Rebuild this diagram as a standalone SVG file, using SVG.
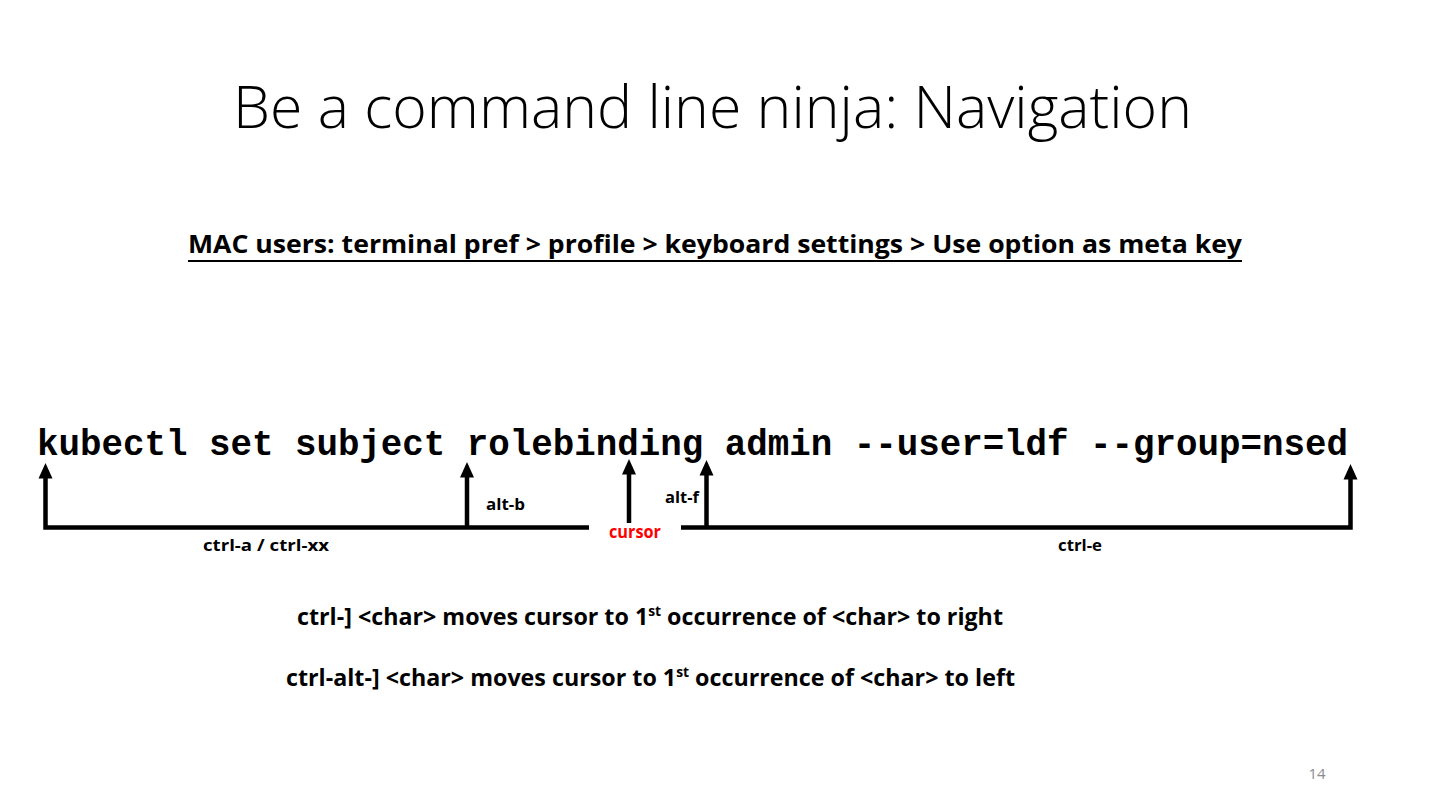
<svg xmlns="http://www.w3.org/2000/svg" width="1440" height="810" viewBox="0 0 1440 810">
  <defs>
    <!-- upward arrowhead, tip at the origin -->
    <path id="tip" d="M-7,15.5 L0,0 L7,15.5 Z" fill="#000"/>
    <style>
      .sans { font-family: "Open Sans", "Noto Sans", "Liberation Sans", sans-serif; }
      .title { font-size: 59px; font-weight: 300; fill: #000; }
      .sub { font-size: 25.5px; font-weight: 700; fill: #000; }
      .cmd { font-family: "Liberation Mono", "DejaVu Sans Mono", monospace; font-size: 36px; font-weight: 700; fill: #000; }
      .lbl { font-size: 16.5px; font-weight: 700; fill: #000; }
      .cur { font-size: 17.5px; font-weight: 700; fill: #ff0000; }
      .note { font-size: 23.5px; font-weight: 700; fill: #000; }
      .sup { font-size: 14px; baseline-shift: 9px; }
      .bar { stroke: #000; stroke-width: 4.5; fill: none; }
    </style>
  </defs>
  <rect width="1440" height="810" fill="#fff"/>

  <!-- heading -->
  <g id="title">
    <text class="sans title" x="233" y="128" textLength="959" lengthAdjust="spacingAndGlyphs">Be a command line ninja: Navigation</text>
  </g>
  <g id="mac-hint">
    <text class="sans sub" x="188" y="253" textLength="1054" lengthAdjust="spacingAndGlyphs">MAC users: terminal pref &gt; profile &gt; keyboard settings &gt; Use option as meta key</text>
    <line x1="188" y1="261" x2="1242" y2="261" stroke="#000" stroke-width="2"/>
  </g>

  <!-- sample command line -->
  <g id="command">
    <text class="cmd" x="37" y="455" textLength="1311" lengthAdjust="spacingAndGlyphs">kubectl set subject rolebinding admin --user=ldf --group=nsed</text>
  </g>

  <!-- movement brackets and arrows -->
  <g id="connectors">
    <path class="bar" d="M45.5,477 V527.5 H589"/>
    <path class="bar" d="M681,527.5 H1350.5 V478"/>
    <path class="bar" d="M467,527.5 V476"/>
    <path class="bar" d="M629,523 V472"/>
    <path class="bar" d="M706.5,527.5 V473"/>
    <use href="#tip" x="45.5" y="463"/>
    <use href="#tip" x="467" y="462"/>
    <use href="#tip" x="629" y="459"/>
    <use href="#tip" x="706.5" y="460"/>
    <use href="#tip" x="1350.5" y="464"/>
  </g>

  <g id="ctrl-a">
    <text class="sans lbl" x="266" y="551" text-anchor="middle" textLength="126" lengthAdjust="spacingAndGlyphs">ctrl-a / ctrl-xx</text>
  </g>
  <g id="alt-b">
    <text class="sans lbl" x="486" y="510" textLength="39" lengthAdjust="spacingAndGlyphs">alt-b</text>
  </g>
  <g id="cursor">
    <text class="sans cur" x="609" y="538" textLength="52" lengthAdjust="spacingAndGlyphs">cursor</text>
  </g>
  <g id="alt-f">
    <text class="sans lbl" x="665" y="503" textLength="34" lengthAdjust="spacingAndGlyphs">alt-f</text>
  </g>
  <g id="ctrl-e">
    <text class="sans lbl" x="1080" y="551" text-anchor="middle" textLength="44" lengthAdjust="spacingAndGlyphs">ctrl-e</text>
  </g>

  <!-- character search notes -->
  <g id="note-right">
    <text class="sans note" x="297" y="625" textLength="706" lengthAdjust="spacingAndGlyphs">ctrl-] &lt;char&gt; moves cursor to 1<tspan class="sup">st</tspan> occurrence of &lt;char&gt; to right</text>
  </g>
  <g id="note-left">
    <text class="sans note" x="286" y="686" textLength="729" lengthAdjust="spacingAndGlyphs">ctrl-alt-] &lt;char&gt; moves cursor to 1<tspan class="sup">st</tspan> occurrence of &lt;char&gt; to left</text>
  </g>

  <g id="page-number">
    <text class="sans" x="1317" y="779" text-anchor="middle" font-size="15" fill="#8c8c8c">14</text>
  </g>
</svg>
